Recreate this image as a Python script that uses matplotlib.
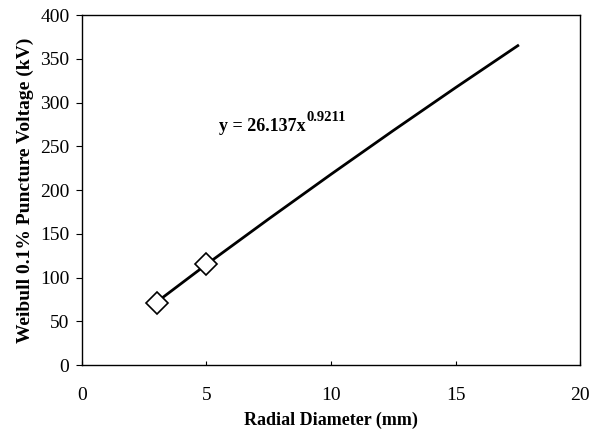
import numpy as np
import matplotlib.pyplot as plt

plt.rcParams["font.family"] = ["Liberation Serif", "DejaVu Serif"]

# measured points
diam = [3, 5]
volt = [71.5, 115]

# trendline
fit_x = [3, 5, 7.5, 10, 12.5, 15, 17.5]
fit_y = [72, 115, 167, 218, 268, 317, 365]

fig = plt.figure(figsize=(5.98, 4.3), dpi=100)
ax = fig.add_axes([0.137, 0.151, 0.833, 0.814])

ax.plot(fit_x, fit_y, color="black", lw=2)
ax.plot(diam, volt, ls="none", marker="D", ms=11, mfc="white", mec="black", mew=1.2)

eq = ax.text(5.5, 268, "y = 26.137x", fontsize=13, fontweight="bold")
ax.annotate("0.9211", xy=(1.0, 0.6), xycoords=eq, xytext=(1, 0), textcoords="offset points",
            fontsize=10.5, fontweight="bold", va="bottom", ha="left")

ax.set_xlim(0, 20)
ax.set_ylim(0, 400)
ax.set_xticks([0, 5, 10, 15, 20])
ax.set_yticks(np.arange(0, 401, 50))
ax.tick_params(axis="x", direction="in", length=3, pad=16, labelsize=14)
ax.tick_params(axis="y", direction="out", length=4, pad=5, labelsize=14)
for s in ax.spines.values():
    s.set_linewidth(1)

ax.set_xlabel("Radial Diameter (mm)", fontsize=13, fontweight="bold", labelpad=5)
ax.set_ylabel("Weibull 0.1% Puncture Voltage (kV)", fontsize=14, fontweight="bold", labelpad=4)

fig.savefig("out.png", dpi=100)
